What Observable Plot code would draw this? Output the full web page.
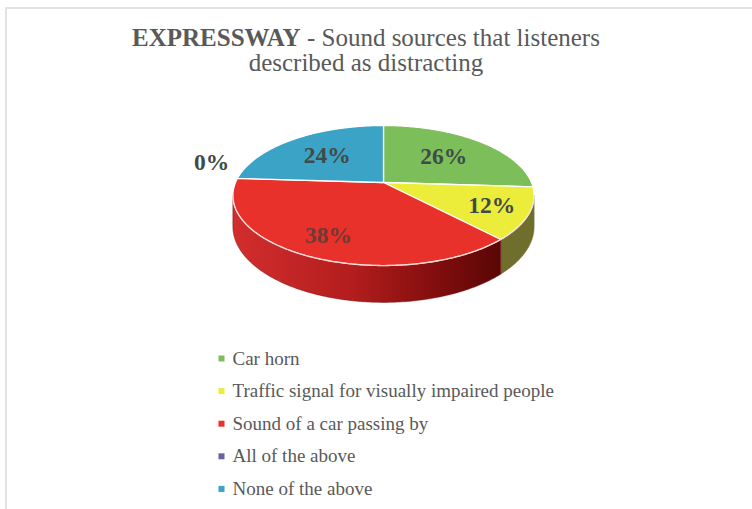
<!DOCTYPE html>
<html>
<head>
<meta charset="utf-8">
<script src="https://cdn.jsdelivr.net/npm/d3@7"></script>
<script src="https://cdn.jsdelivr.net/npm/@observablehq/plot@0.6"></script>
<style>
  html, body { margin: 0; padding: 0; background: #ffffff; }
  #wrap { position: relative; width: 752px; height: 509px; overflow: hidden; background: #fff; }
  #frame { position: absolute; left: 5px; top: 7px; right: -2px; bottom: -2px; border-top: 2px solid #e2e2e2; border-left: 2px solid #e2e2e2; }
  #title { position: absolute; left: 0; top: 25px; width: 732px; text-align: center;
           font-family: "Liberation Serif", "Times New Roman", serif; font-size: 25px; line-height: 25px; color: #595959; }
  #chart { position: absolute; left: 0; top: 0; }
</style>
</head>
<body>
<div id="wrap">
  <div id="frame"></div>
  <div id="chart"></div>
  <div id="title"><b>EXPRESSWAY</b> - Sound sources that listeners<br>described as distracting</div>
</div>
<script>
// ---- data ----
const categories = ["Car horn", "Traffic signal for visually impaired people", "Sound of a car passing by", "All of the above", "None of the above"];
const values = [26, 12, 38, 0, 24];
const valueLabels = ["26%", "12%", "38%", "0%", "24%"];
const topColors = ["#7cbf5a", "#ecec3a", "#e9312b", "#6b62a5", "#3ba3c6"];
const sideColors = ["#4d7a37", "#6f6e2c", "url(#redSide)", "#433d6b", "#25677e"];

// ---- geometry (pixel space) ----
const W = 752, H = 509;
const cx = 383, cy = 182, R = 148, Ry = 67.6, k = 0.186, depth = 30;
function proj(theta, r, h) {
  const u = Math.sin(theta), v = -Math.cos(theta);
  const s = 1 / (1 - k * r * v);
  return {x: cx + R * r * u * s, y: cy + Ry * r * v * s + h * s};
}
const total = d3.sum(values);
let acc = 0;
const slices = values.map((v, i) => {
  const a0 = acc / total * 2 * Math.PI;
  acc += v;
  const a1 = acc / total * 2 * Math.PI;
  return {i, v, a0, a1};
});
const step = Math.PI / 360;
function arc(a0, a1, r, h) {
  const pts = [];
  const n = Math.max(2, Math.ceil((a1 - a0) / step));
  for (let j = 0; j <= n; j++) pts.push(proj(a0 + (a1 - a0) * j / n, r, h));
  return pts;
}
const thL = Math.acos(-k), thR = 2 * Math.PI - Math.acos(-k);

const marks = [];
// side walls (front only)
slices.forEach(s => {
  if (s.v === 0) return;
  const b0 = Math.max(s.a0, thL), b1 = Math.min(s.a1, thR);
  if (b1 <= b0) return;
  const top = arc(b0, b1, 1, 0);
  const bot = arc(b0, b1, 1, depth).reverse();
  const pts = top.concat(bot);
  pts.push(pts[0]);
  marks.push(Plot.line(pts, {x: "x", y: "y", fill: sideColors[s.i], stroke: sideColors[s.i] === "url(#redSide)" ? "#7a1010" : sideColors[s.i], strokeWidth: 0.5}));
});
// top faces
slices.forEach(s => {
  if (s.v === 0) return;
  const pts = [proj(0, 0, 0)].concat(arc(s.a0, s.a1, 1, 0));
  pts.push(pts[0]);
  marks.push(Plot.line(pts, {x: "x", y: "y", fill: topColors[s.i], stroke: "#ffffff", strokeWidth: 1.3, strokeLinejoin: "round"}));
});
// thin highlight at top edge of the side
marks.push(Plot.line(arc(thL, thR, 1, 0), {x: "x", y: "y", stroke: "#f4c8c0", strokeWidth: 1, strokeOpacity: 0.8}));

// value labels
const labelData = slices.map(s => {
  const mid = (s.a0 + s.a1) / 2;
  let p;
  if (s.v === 0) { p = proj(mid, 1.18, 0); p = {x: p.x, y: p.y - 15}; }
  else {
    const r = (Math.cos(mid) < -0.4 || s.v < 15) ? 0.76 : 0.6;
    p = proj(mid, r, 0);
  }
  return {x: p.x, y: p.y, text: valueLabels[s.i], i: s.i};
});
marks.push(Plot.text(labelData, {x: "x", y: "y", text: "text", fontSize: 23.5, fontWeight: "bold",
  fontFamily: "Liberation Serif", lineAnchor: "middle", textAnchor: "middle",
  fill: d => d.i === 2 ? "#6e3a33" : "#404b49"}));

// legend
const legendData = categories.map((c, i) => ({c, i, y: 358 + i * 32.6}));
marks.push(Plot.dot(legendData, {x: () => 221, y: "y", symbol: "square", r: 3.4, fill: d => topColors[d.i], stroke: null}));
marks.push(Plot.text(legendData, {x: () => 232, y: "y", text: "c", textAnchor: "start", lineAnchor: "middle",
  fontSize: 19, fontFamily: "Liberation Serif", fill: "#595959"}));

const svg = Plot.plot({
  width: W, height: H,
  marginTop: 0, marginRight: 0, marginBottom: 0, marginLeft: 0,
  x: {domain: [0, W], range: [0, W], axis: null},
  y: {domain: [0, H], range: [0, H], axis: null},
  color: {type: "identity"},
  style: {background: "transparent", fontFamily: "Liberation Serif", overflow: "visible"},
  marks
});
const defs = d3.select(svg).insert("defs", ":first-child");
const g = defs.append("linearGradient").attr("id", "redSide")
  .attr("gradientUnits", "userSpaceOnUse").attr("x1", 230).attr("x2", 500).attr("y1", 0).attr("y2", 0);
g.append("stop").attr("offset", 0).attr("stop-color", "#d32e2e");
g.append("stop").attr("offset", 0.45).attr("stop-color", "#b31d1d");
g.append("stop").attr("offset", 0.8).attr("stop-color", "#7c0c0c");
g.append("stop").attr("offset", 1).attr("stop-color", "#5a0606");
document.getElementById("chart").appendChild(svg);
</script>
</body>
</html>
